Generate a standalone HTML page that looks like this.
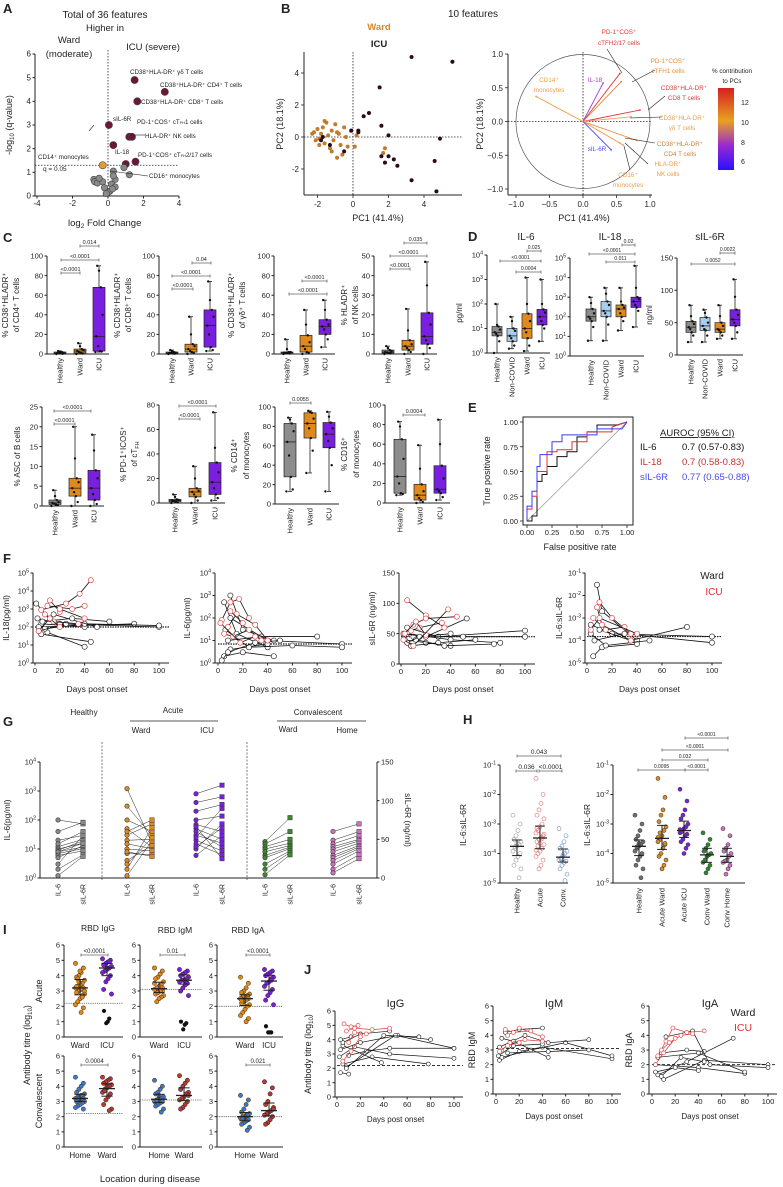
<!DOCTYPE html>
<html><head><meta charset="utf-8"><style>
body{margin:0;background:#fff}
svg{display:block;font-family:"Liberation Sans",sans-serif}
</style></head><body>
<svg id="fig" width="783" height="1187" viewBox="0 0 783 1187"></svg>
<script>
// ===================== DATA =====================
const volFC=[1.5,3.2,1.65,0.05,1.2,1.35,0.3,1.55,1.0,-0.3,0.9,0.3,0.4,1.2,-0.8,-0.75,-0.6,-0.3,0.2,0.4,-0.2,0.1,0,-0.5,0.3,0.25,-0.1];
const volQ=[4.9,4.4,4.0,3.0,2.5,2.5,2.15,1.45,1.35,1.3,1.2,1.05,0.7,0.9,0.7,0.6,0.55,0.6,0.5,0.38,0.35,0.2,0.15,0.75,0.85,0.3,0.1];
const volGrp=['s','s','s','s','s','s','s','s','s','w','n','n','n','n','n','n','n','n','n','n','n','n','n','n','n','n','n'];
const pcaWardX=[-2.3,-2.2,-2.0,-1.9,-1.8,-1.7,-1.6,-1.5,-1.4,-1.3,-1.2,-1.1,-1.0,-0.9,-0.8,-0.7,-0.5,-0.4,-0.3,-0.1,0.1,0.2,-2.1,-1.6,-1.2,-0.6,1.8,1.7,-1.9,-0.9];
const pcaWardY=[0.2,0.3,0.5,-0.1,0.2,0.6,-0.4,0.9,0.1,-0.7,0.4,-0.2,0.8,-1.3,0.2,-0.5,0.6,0,-0.6,0.4,-0.6,0.1,-0.2,1.0,-0.9,-1.1,-0.7,-1.0,-0.5,0.3];
const pcaIcuX=[3.3,5.6,1.5,0.9,0.6,1.6,2.0,-0.1,0.3,4.9,1.6,2.0,2.3,1.8,2.5,4.6,3.3,4.7,-1.7,-0.5,-1.3,0.3,-1.8];
const pcaIcuY=[5.0,4.7,3.1,1.5,1.3,0.7,0.1,0.4,0.4,-0.1,-1.2,-1.2,-1.4,-1.6,-1.8,-1.5,-2.7,-3.4,0,-0.9,-0.5,0.3,-0.2];
const loadNames=['tfh217','tfh1','il18','cd14','cd8','gd','cd4','nk','cd16','sil6r'];
const loadX=[0.55,0.57,0.3,-0.7,0.85,0.72,0.8,0.6,0.55,0.42];
const loadY=[0.71,0.59,0.57,0.37,0.17,0.07,-0.28,-0.35,-0.32,-0.42];
const loadCol=['#e2383a','#ef7f2d','#a43ed6','#f09a40','#db3a3a','#e8a070','#ee8a3c','#f09a50','#f0a868','#4a4af8'];
const cCD4H=[0,0.2,0.5,0.8,1,1.3,2,2.5,3], cCD4W=[0,0.5,1,2,3,4,5,8,11], cCD4I=[2,2.5,3,8,18,40,68,85,90];
const cCD8H=[0,0.3,0.5,1,1,1.5,2,3,4], cCD8W=[0,1,2,3,5,8,10,20,38], cCD8I=[3,4,7,20,29,38,45,55,74];
const cGDH=[0,0.5,1,1,1.5,2,2,5,15], cGDW=[0,1,2,5,8,12,19,30,45], cGDI=[7,15,20,25,28,30,35,45,55];
const cNKH=[0,0.3,0.5,0.8,1,1.5,2,3,4], cNKW=[0,1,2,3,4,5,7,12,23], cNKI=[0,3,5,7,9,15,21,35,47];
const cASCH=[0,0.2,0.4,0.6,0.8,1,1.5,2.5,4], cASCW=[0,1,2.5,3.5,4.5,6,7,12,20], cASCI=[0,0.5,1.5,3,4.5,7,9,14,18];
const cPDH=[0,0.5,1,1.5,2,2.5,3,5,7], cPDW=[0,2,5,7,9,10,12,20,30], cPDI=[2,4,7,12,17,25,33,45,74];
const cC14H=[13,15,28,50,64,75,83,87,89], cC14W=[32,55,68,78,83,88,94,95,96], cC14I=[13,40,58,65,72,78,84,90,95];
const cC16H=[8,9,10,20,27,45,65,78,83], cC16W=[0,1,3,5,8,12,19,35,59], cC16I=[3,6,10,12,14,25,38,60,85];
const dIL6H=[1,3,5,6,7,9,12,14,100], dIL6N=[1.5,2,3,4,5,8,10,20,30], dIL6W=[1.2,2,4,7,10,20,40,100,1200], dIL6I=[3,10,14,20,30,45,60,100,1000];
const dIL18H=[6,30,60,80,100,150,250,500,1000], dIL18N=[6,40,100,150,200,400,600,1500,3000], dIL18W=[20,60,100,150,250,300,400,600,3000], dIL18I=[30,200,300,400,600,800,1000,3000,40000];
const dSRH=[20,30,35,40,43,48,52,60,77], dSRN=[20,30,38,40,45,50,58,65,70], dSRW=[25,30,35,38,40,45,50,60,77], dSRI=[25,35,45,50,55,62,70,90,117];
const rocIL6F=[0,0.05,0.05,0.1,0.1,0.15,0.15,0.2,0.2,0.3,0.3,0.4,0.4,0.5,0.5,0.6,0.6,0.7,0.7,0.9,1];
const rocIL6T=[0,0,0.05,0.05,0.4,0.4,0.47,0.47,0.55,0.55,0.65,0.65,0.7,0.7,0.85,0.85,0.9,0.9,0.97,0.97,1];
const rocIL18F=[0,0,0.05,0.05,0.1,0.1,0.2,0.2,0.3,0.3,0.45,0.45,0.6,0.6,0.85,0.85,1];
const rocIL18T=[0,0.12,0.12,0.25,0.25,0.5,0.5,0.7,0.7,0.72,0.72,0.8,0.8,0.9,0.9,0.95,1];
const rocSRF=[0,0,0.05,0.05,0.1,0.1,0.13,0.13,0.25,0.25,0.35,0.35,0.7,0.7,0.95,1];
const rocSRT=[0,0.15,0.15,0.3,0.3,0.55,0.55,0.67,0.67,0.8,0.8,0.87,0.87,0.93,0.93,1];
const fIL18W=[[[2,300],[20,150],[100,100]],[[5,150],[40,100]],[[3,100],[80,150]],[[10,50],[40,8]],[[5,40],[45,15]],[[8,80],[40,150],[100,120]],[[1,2000],[12,300]],[[15,500],[50,100]],[[6,200],[30,300],[60,200]],[[3,60],[25,150]]];
const fIL18I=[[[5,900],[25,2000],[36,7000],[45,40000]],[[10,1500],[30,1000],[40,1500]],[[12,3000],[20,700]],[[8,500],[15,200],[35,150]],[[3,60],[12,300],[20,100]],[[20,1000],[40,300]]];
const fIL6W=[[[5,500],[15,20],[40,5]],[[5,2],[20,3],[45,2]],[[8,10],[35,15],[80,15]],[[3,1.3],[10,4],[40,7]],[[10,100],[40,10],[100,7]],[[6,30],[25,5],[60,6],[100,5]],[[10,1000],[20,30],[45,10]],[[8,3],[30,8],[50,10]]];
const fIL6I=[[[3,80],[10,500],[17,700],[25,100]],[[8,40],[15,150],[30,50],[40,10]],[[5,20],[12,15],[25,30],[35,10]],[[2,60],[18,8],[30,15]],[[10,200],[20,60]]];
const fSRW=[[[5,60],[30,45],[100,55]],[[3,40],[20,35],[40,30]],[[10,45],[50,45],[100,45]],[[5,50],[40,40],[80,35]],[[8,30],[30,35],[60,40]],[[2,50],[20,45],[53,75]],[[12,40],[35,30],[75,33]],[[5,35],[15,45],[40,50]]];
const fSRI=[[[5,105],[20,80],[35,60]],[[10,65],[20,75],[45,78]],[[8,55],[15,60],[33,68]],[[3,50],[12,70],[20,48]],[[2,40],[10,30],[38,90]]];
const fRatW=[[[8,0.03],[12,0.002],[40,1e-4]],[[3,5e-4],[20,2e-4],[100,1.5e-4]],[[5,2e-5],[12,5e-5],[40,7e-5]],[[10,3e-4],[35,1e-4],[80,4e-4]],[[6,1e-4],[30,2e-4],[100,8e-5]],[[3,2e-4],[15,6e-5],[50,1e-4]]];
const fRatI=[[[10,0.005],[20,0.001],[35,2e-4]],[[5,0.001],[15,3e-4],[30,4e-4]],[[8,0.003],[12,5e-4],[35,1e-4]],[[3,3e-4],[10,0.001],[40,2e-4]]];
const gHIL6=[100,40,20,12,10,9,8,7,6,5,3,2,1.2,15,8], gHSR=[70,72,55,50,45,48,40,38,35,42,55,30,28,60,45];
const gWIL6=[1200,300,100,50,30,20,15,10,7,4,2,1.2,40,8,3], gWSR=[45,55,60,40,70,50,38,35,30,42,65,48,75,28,52];
const gIIL6=[800,400,200,100,70,50,40,30,20,15,10,6,60,25,12], gISR=[120,105,95,80,60,50,40,45,35,30,70,55,25,90,65];
const gCWIL6=[18,15,12,10,8,6,5,3,2,1.3], gCWSR=[78,60,50,45,42,40,38,35,33,30];
const gCHIL6=[40,20,15,12,10,8,6,5,4,3,2,1.5], gCHSR=[70,60,55,50,48,45,42,40,38,35,30,25];
const hHealthy=[2e-3,1e-3,6e-4,4e-4,3e-4,2.5e-4,2e-4,1.8e-4,1.5e-4,1.2e-4,1e-4,8e-5,6e-5,4e-5,3e-5,1.5e-5,2.2e-4,1.7e-4];
const hAcute=[0.035,0.01,0.005,0.003,2e-3,1.5e-3,1e-3,8e-4,6e-4,5e-4,4e-4,3.5e-4,3e-4,2.5e-4,2e-4,1.5e-4,1.2e-4,1e-4,8e-5,6e-5,4e-5,3e-5,7e-4,4.5e-4,3.2e-4,2.2e-4,1.8e-4,1.3e-4];
const hConv=[7e-4,4e-4,2.5e-4,1.8e-4,1.5e-4,1.2e-4,1e-4,8e-5,7e-5,6e-5,5.5e-5,5e-5,4e-5,3e-5,2e-5,1.2e-5,9e-5,6.5e-5];
const hAW=[0.035,0.008,3e-3,2e-3,1.2e-3,8e-4,6e-4,4e-4,3e-4,2.5e-4,2e-4,1.5e-4,1e-4,8e-5,6e-5,4e-5,3e-5,5e-4,3.5e-4,2.2e-4];
const hAI=[0.015,6e-3,3e-3,2e-3,1.5e-3,1e-3,8e-4,7e-4,6e-4,5e-4,4.5e-4,4e-4,3e-4,2.5e-4,2e-4,1.5e-4,1e-4,5.5e-4,6.5e-4];
const hCW=[5e-4,3e-4,2e-4,1.5e-4,1.2e-4,1e-4,9e-5,8e-5,6e-5,5e-5,4e-5,3e-5,2.2e-5];
const hCH=[7e-4,4e-4,2e-4,1.5e-4,1.2e-4,1e-4,8e-5,6e-5,5.5e-5,5e-5,4e-5,3e-5,2e-5];
const iGW=[4.8,4.5,4.2,4.0,3.9,3.7,3.5,3.4,3.3,3.2,3.2,3.1,3.0,2.9,2.8,2.7,2.5,2.3,2.1,1.9,1.6,3.6,3.3,3.0,2.6,4.3,3.8], iGI=[5.1,5.0,4.9,4.8,4.7,4.6,4.5,4.4,4.3,4.2,4.0,3.8,3.6,3.1,2.8,4.9,4.5], iGN=[1.7,1.2,1.0,0.9];
const iGHome=[4.6,4.2,4.0,3.8,3.6,3.5,3.4,3.3,3.3,3.2,3.2,3.1,3.1,3.0,3.0,2.9,2.8,2.7,2.6,2.5,3.4,3.2], iGWard=[4.6,4.5,4.4,4.3,4.2,4.1,4.0,3.9,3.8,3.6,3.5,3.3,3.1,2.8,2.5,2.4,4.0,3.7];
const iMW=[4.5,4.3,4.1,3.9,3.8,3.6,3.4,3.3,3.2,3.1,3.0,3.0,2.9,2.8,2.7,2.6,2.5,2.3,3.5,3.2,3.0,2.9], iMI=[4.4,4.3,4.2,4.1,4.0,3.9,3.8,3.7,3.7,3.6,3.5,3.4,3.2,3.0,2.7], iMN=[1.0,0.9,0.8,0.5];
const iMHome=[4.4,4.0,3.8,3.6,3.5,3.3,3.2,3.2,3.1,3.0,3.0,2.9,2.8,2.7,2.5,2.3,3.4,3.1], iMWard=[4.7,4.4,4.2,4.0,3.8,3.6,3.5,3.3,3.2,3.1,3.0,2.8,2.6,2.5,3.4];
const iAW=[3.9,3.5,3.2,3.0,2.9,2.8,2.7,2.6,2.6,2.5,2.5,2.4,2.3,2.2,2.1,2.0,1.8,1.6,1.4,1.2,1.0,2.7,2.4], iAI=[4.4,4.3,4.2,4.1,4.0,3.9,3.8,3.6,3.5,3.3,3.1,2.9,2.7,2.4,2.1,3.7], iAN=[0.7,0.3,0.3,0.3];
const iAHome=[3.4,3.1,2.8,2.5,2.3,2.2,2.1,2.0,2.0,1.9,1.8,1.7,1.6,1.5,1.3,1.1,2.0,1.9], iAWard=[4.3,3.9,3.5,3.0,2.8,2.6,2.4,2.3,2.2,2.1,2.0,1.8,1.6,1.5,2.5];
const jGW=[[[3,1.7],[10,1.6]],[[5,2.3],[30,2.8],[78,2.3]],[[3,3.3],[20,3.8],[52,4.3],[80,4.0]],[[5,3.6],[38,2.4]],[[8,2.1],[50,4.3],[100,3.4]],[[2,2.8],[15,3.5],[45,3.0],[100,2.7]],[[5,3.8],[20,4.4],[45,4.6]],[[10,2.9],[25,3.2],[45,3.4],[100,3.4]],[[3,4.0],[12,4.2]],[[8,2.0],[40,4.3],[70,4.2]]];
const jGI=[[[8,4.6],[15,4.8],[30,4.7],[45,4.8]],[[6,5.1],[12,4.9],[18,5.0]],[[10,3.8],[15,4.5],[25,4.4]],[[5,2.5],[12,3.2],[20,4.2]]];
const jMW=[[[3,2.3],[20,2.9],[40,3.2],[100,2.4]],[[5,2.5],[30,3.0],[60,3.5],[100,2.6]],[[8,4.2],[20,4.4],[40,4.5]],[[3,3.2],[25,4.0],[45,3.5],[80,3.7]],[[10,2.8],[45,2.9],[80,3.0]],[[5,3.8],[15,3.6],[45,2.5]],[[2,2.6],[15,3.3],[40,3.4]]];
const jMI=[[[10,4.0],[20,4.5],[40,3.9]],[[5,3.0],[12,3.5],[25,3.7],[40,3.6]],[[8,4.4],[15,4.2],[30,4.3]],[[3,2.9],[10,3.3],[20,3.5]]];
const jAW=[[[5,1.3],[30,2.2],[70,3.8]],[[3,2.0],[40,1.8],[80,1.4]],[[8,2.8],[30,3.0],[45,2.9]],[[10,1.0],[45,2.3],[100,2.0]],[[5,2.5],[40,2.8],[80,1.5]],[[3,1.5],[20,1.8],[40,1.6]],[[12,3.9],[35,4.3],[50,2.0],[100,1.8]],[[8,1.2],[25,2.5],[45,2.2]]];
const jAI=[[[5,2.6],[12,3.6],[18,4.5],[30,4.2],[45,4.3]],[[8,3.0],[15,3.5],[25,4.0],[35,4.1]],[[3,2.0],[10,2.8],[20,3.8]]];

// ===================== HELPERS =====================
const NS='http://www.w3.org/2000/svg';
const svg=document.getElementById('fig');
const GRAY='#8c8c8c',ORG='#e08a1e',PUR='#7a1fe0',LBL='#a9cdee';
function mk(tag,attrs,name,parent){
  const el=document.createElementNS(NS,tag);
  for(const k in attrs) el.setAttribute(k,attrs[k]);
  
  
  (parent||svg).appendChild(el);
  return el;
}
function tx(x,y,s,o){o=o||{};const a={x:x,y:y,'font-size':o.fs||7,fill:o.c||'#222','text-anchor':o.a||'start'};
  if(o.rot!=null)a.transform='rotate('+o.rot+' '+x+' '+y+')';
  if(o.fw)a['font-weight']=o.fw;
  if(o.td)a['text-decoration']=o.td;
  const el=mk('text',a,o.n||'label');el.textContent=s;return el;}
function sub(el,s,dy,fs,name){const t=mk('tspan',{dy:dy,'font-size':fs},name||'text-part',el);t.textContent=s;return t;}
function pw(x,y,e,o){o=o||{};const el=tx(x,y,'10',o);sub(el,String(e),-3,(o.fs||7)*0.7,'exponent');return el;}
function ln(x1,y1,x2,y2,o){o=o||{};const a={x1:x1,y1:y1,x2:x2,y2:y2,stroke:o.c||'#222','stroke-width':o.w||0.8};if(o.d)a['stroke-dasharray']=o.d;return mk('line',a,o.n||'line');}
function dot(x,y,r,fill,stroke,name){return mk('circle',{cx:x,cy:y,r:r,fill:fill,stroke:stroke||'none','stroke-width':0.6},name||'data-point');}
function lin(d0,d1,r0,r1){return v=>r0+(v-d0)/(d1-d0)*(r1-r0);}
function lgs(e0,e1,r0,r1){return v=>r0+(Math.log10(v)-e0)/(e1-e0)*(r1-r0);}
function jit(i,w){return (((i*7)%9)-4)/4*w;}
function qt(a,p){const s=[...a].sort((x,y)=>x-y);const i=(s.length-1)*p,lo=Math.floor(i),hi=Math.ceil(i);return s[lo]+(s[hi]-s[lo])*(i-lo);}
function yAxis(x,sc,ticks,o){o=o||{};const ys=ticks.map(t=>sc(o.log?Math.pow(10,t):t));
  ln(x,Math.min(...ys),x,Math.max(...ys),{n:'y-axis-line',w:1});
  const side=o.right?1:-1;
  ticks.forEach((t,i)=>{ln(x,ys[i],x+side*2.5,ys[i],{n:'y-tick',w:1});
    const lx=x+side*4,a=o.right?'start':'end',fs=o.fs||7.5;
    if(o.log)pw(lx,ys[i]+2.7,t,{a:a,fs:fs,n:'y-tick-label'});else tx(lx,ys[i]+2.7,o.lab?o.lab[i]:String(t),{a:a,fs:fs,n:'y-tick-label'});});}
function xAxis(y,sc,ticks,o){o=o||{};const xs=ticks.map(t=>sc(t));
  ln(o.x0!=null?o.x0:Math.min(...xs),y,o.x1!=null?o.x1:Math.max(...xs),y,{n:'x-axis-line',w:1});
  ticks.forEach((t,i)=>{ln(xs[i],y,xs[i],y+2.5,{n:'x-tick',w:1});tx(xs[i],y+10,o.lab?o.lab[i]:String(t),{a:'middle',fs:o.fs||7.5,n:'x-tick-label'});});}
function br(x1,x2,y,lab,fs){ln(x1,y,x2,y,{c:'#666',n:'sig-bracket'});ln(x1,y-1.5,x1,y+1.5,{c:'#666',n:'sig-bracket-end'});ln(x2,y-1.5,x2,y+1.5,{c:'#666',n:'sig-bracket-end'});tx((x1+x2)/2,y-2,lab,{a:'middle',fs:fs||5.5,n:'p-value'});}
function catLab(x,y,s,fs){tx(x+2.5,y,s,{rot:-90,a:'end',fs:fs||7.5,n:'category-label'});}
function box(xc,vals,sc,col,w,name){
  const mn=Math.min(...vals),mx=Math.max(...vals),q1=qt(vals,.25),md=qt(vals,.5),q3=qt(vals,.75);
  ln(xc,sc(mx),xc,sc(mn),{n:name+'-whisker'});
  ln(xc-2,sc(mx),xc+2,sc(mx),{n:name+'-cap'});ln(xc-2,sc(mn),xc+2,sc(mn),{n:name+'-cap'});
  mk('rect',{x:xc-w/2,y:sc(q3),width:w,height:Math.max(0.6,sc(q1)-sc(q3)),fill:col,stroke:'#222','stroke-width':0.7},name+'-box');
  ln(xc-w/2,sc(md),xc+w/2,sc(md),{n:name+'-median'});
  vals.forEach((v,i)=>dot(xc+jit(i,w*0.3),sc(v),1.2,'#111',null,name+'-point'));}
function medIqr(xc,vals,sc,w){const q1=qt(vals,.25),md=qt(vals,.5),q3=qt(vals,.75);
  ln(xc,sc(q1),xc,sc(q3),{w:1,n:'iqr-bar'});ln(xc-w*0.35,sc(q1),xc+w*0.35,sc(q1),{w:1,n:'iqr-cap'});ln(xc-w*0.35,sc(q3),xc+w*0.35,sc(q3),{w:1,n:'iqr-cap'});ln(xc-w/2,sc(md),xc+w/2,sc(md),{w:1.3,n:'median-bar'});}
function scat(xc,vals,sc,fill,stroke,w,r,name){vals.forEach((v,i)=>dot(xc+jit(i,w),sc(v),r||2,fill,stroke,name));}

// ===================== PANEL A =====================
tx(3,13,'A',{fs:13,fw:'bold',n:'panel-letter-a'});
tx(105,18,'Total of 36 features',{fs:10,a:'middle',n:'panel-a-title'});
tx(105,31,'Higher in',{fs:9.5,a:'middle',n:'higher-in-label'});
tx(69,43,'Ward',{fs:9.5,a:'middle',n:'ward-label'});
tx(69,57,'(moderate)',{fs:9.5,a:'middle',n:'moderate-label'});
tx(153,50,'ICU (severe)',{fs:9.5,a:'middle',n:'icu-severe-label'});
{const sx=lin(-4,4,37,179),sy=lin(0,6,196,54);
 yAxis(35,sy,[0,1,2,3,4,5,6],{fs:8});xAxis(196,sx,[-4,-2,0,2,4],{x0:35,fs:8});
 ln(sx(0),50,sx(0),196,{d:'1.5,1.5',n:'zero-line'});ln(35,sy(1.3),178,sy(1.3),{d:'1.5,1.5',n:'q-threshold-line'});
 tx(43,171,'q = 0.05',{fs:6.5,n:'q-threshold-label'});
 const cols={s:'#6e1538',w:'#e89a2c',n:'#8a8a8a'};
 volFC.forEach((v,i)=>dot(sx(v),sy(volQ[i]),volGrp[i]==='n'?3.2:3.6,cols[volGrp[i]],'#444','volcano-point'));
 const lab=[[130,74,'CD38⁺HLA-DR⁺ γδ T cells'],[160,87,'CD38⁺HLA-DR⁺ CD4⁺ T cells'],[141,104,'CD38⁺HLA-DR⁺ CD8⁺ T cells'],[113,121,'sIL-6R'],[137,124,'PD-1⁺COS⁺ cT'],[145,138,'HLA-DR⁺ NK cells'],[115,154,'IL-18'],[138,157,'PD-1⁺COS⁺  cT'],[38,159,'CD14⁺ monocytes'],[149,178,'CD16⁺ monocytes']];
 lab.forEach((l,i)=>{const t=tx(l[0],l[1],l[2],{fs:6.2,n:'feature-label'});if(i===4){sub(t,'FH',0,4,'subscript');sub(t,'1 cells',0,6.2,'text-part');}if(i===7){sub(t,'FH',0,4,'subscript');sub(t,'2/17 cells',0,6.2,'text-part');}});
 ln(130,135,145,135,{w:0.6,n:'label-connector'});ln(89,131,94,125,{w:0.6,n:'label-connector'});ln(110,171,148,176,{w:0.6,n:'label-connector'});
 const xt=tx(68,226,'log',{fs:9.5,n:'x-axis-title'});sub(xt,'2',2,6.5,'subscript');sub(xt,' Fold Change',-2,9.5,'text-part');
 const yt=tx(12,125,'-log',{fs:9,a:'middle',rot:-90,n:'y-axis-title'});sub(yt,'10',2,6,'subscript');sub(yt,' (q-value)',-2,9,'text-part');
}

// ===================== PANEL B =====================
tx(281,13,'B',{fs:13,fw:'bold',n:'panel-letter-b'});
tx(473,17,'10 features',{fs:10,a:'middle',n:'panel-b-title'});
tx(379,30,'Ward',{fs:9.5,a:'middle',fw:'bold',c:'#d6892a',n:'legend-ward'});
tx(379,47,'ICU',{fs:9.5,a:'middle',fw:'bold',c:'#222',n:'legend-icu'});
{const sx=lin(0,4,353,424),sy=lin(0,4,137,73);
 ln(304,52,304,195,{w:1,n:'y-axis-line'});ln(304,195,462,195,{w:1,n:'x-axis-line'});
 [-2,0,2,4].forEach(t=>{ln(sx(t),195,sx(t),198,{n:'x-tick'});tx(sx(t),207,String(t),{a:'middle',fs:8,n:'x-tick-label'});
   ln(304,sy(t),301,sy(t),{n:'y-tick'});tx(299,sy(t)+3,String(t),{a:'end',fs:8,n:'y-tick-label'});});
 ln(sx(0),52,sx(0),195,{d:'1.5,1.5',n:'zero-line-x'});ln(304,sy(0),462,sy(0),{d:'1.5,1.5',n:'zero-line-y'});
 pcaWardX.forEach((v,i)=>dot(sx(v),sy(pcaWardY[i]),2,'#c07a2a',null,'pca-ward-point'));
 pcaIcuX.forEach((v,i)=>dot(sx(v),sy(pcaIcuY[i]),2,'#2a0a18',null,'pca-icu-point'));
 tx(378,221,'PC1 (41.4%)',{fs:9,a:'middle',n:'x-axis-title'});tx(283,124,'PC2 (18.1%)',{fs:9,a:'middle',rot:-90,n:'y-axis-title'});}
{const sx=lin(-1,1,516,650),sy=lin(-1,1,189,54);
 mk('circle',{cx:sx(0),cy:sy(0),r:67,fill:'none',stroke:'#555','stroke-width':0.7},'correlation-circle');
 ln(508,54,508,195,{w:1,n:'y-axis-line'});ln(508,195,652,195,{w:1,n:'x-axis-line'});
 [-1,-0.5,0,0.5,1].forEach(t=>{const l=t.toFixed(1).replace('-','−');ln(sx(t),195,sx(t),198,{n:'x-tick'});tx(sx(t),207,l,{a:'middle',fs:8,n:'x-tick-label'});
   ln(508,sy(t),505,sy(t),{n:'y-tick'});tx(503,sy(t)+3,l,{a:'end',fs:8,n:'y-tick-label'});});
 ln(sx(0),52,sx(0),195,{d:'1.5,1.5',n:'zero-line-x'});ln(508,sy(0),652,sy(0),{d:'1.5,1.5',n:'zero-line-y'});
 loadX.forEach((v,i)=>{ln(sx(0),sy(0),sx(v),sy(loadY[i]),{c:loadCol[i],w:0.9,n:'loading-arrow-'+loadNames[i]});dot(sx(v),sy(loadY[i]),0.9,loadCol[i],null,'arrow-head');});
 const bl=[[619,34,'PD-1⁺COS⁺','#e2383a'],[619,45,'cTFH2/17 cells','#e2383a'],[668,63,'PD-1⁺COS⁺','#ef8a30'],[668,73,'cTFH1 cells','#ef8a30'],[595,82,'IL-18','#a43ed6'],[549,82,'CD14⁺','#f0a040'],[549,92,'monocytes','#f0a040'],[684,90,'CD38⁺HLA-DR⁺','#db3a3a'],[684,100,'CD8 T cells','#db3a3a'],[682,120,'CD38⁺HLA-DR⁺','#e8a050'],[682,130,'γδ T cells','#e8a050'],[597,151,'sIL-6R','#4a4af8'],[680,146,'CD38⁺HLA-DR⁺','#d0803a'],[680,156,'CD4 T cells','#d0803a'],[668,166,'HLA-DR⁺','#f09a40'],[668,176,'NK cells','#f09a40'],[628,177,'CD16⁺','#f0a040'],[628,187,'monocytes','#f0a040']];
 bl.forEach(l=>tx(l[0],l[1],l[2],{fs:6.3,a:'middle',c:l[3],n:'loading-label'}));
 ln(607,49,622,73,{w:0.6,n:'label-connector'});ln(655,70,632,82,{w:0.6,n:'label-connector'});ln(665,96,648,110,{w:0.6,n:'label-connector'});ln(662,117,630,118,{w:0.6,n:'label-connector'});ln(655,143,625,138,{w:0.6,n:'label-connector'});ln(648,164,625,143,{w:0.6,n:'label-connector'});ln(630,170,624,146,{w:0.6,n:'label-connector'});
 tx(584,221,'PC1 (41.4%)',{fs:9,a:'middle',n:'x-axis-title'});tx(483,124,'PC2 (18.1%)',{fs:9,a:'middle',rot:-90,n:'y-axis-title'});
 const defs=mk('defs',{},'defs');const g=mk('linearGradient',{id:'cb',x1:0,y1:1,x2:0,y2:0},'colorbar-gradient',defs);
 [['0','#2a10ff'],['0.3','#9a2ad0'],['0.6','#e8a020'],['1','#d42020']].forEach(s=>mk('stop',{offset:s[0],'stop-color':s[1]},'gradient-stop',g));
 mk('rect',{x:718,y:88,width:16,height:82,fill:'url(#cb)'},'colorbar');
 [[12,103],[10,123],[8,143],[6,162]].forEach(t=>tx(741,t[1]+2,String(t[0]),{fs:7,n:'colorbar-tick-label'}));
 tx(732,73,'% contribution',{fs:6.3,a:'middle',n:'colorbar-title'});tx(732,83,'to PCs',{fs:6.3,a:'middle',n:'colorbar-title'});}

// ===================== PANEL C =====================
tx(3,242,'C',{fs:13,fw:'bold',n:'panel-letter-c'});
function cPanel(ax,yBot,yTop,max,step,cats,groups,cols,ylab,brs,name){
  const sc=lin(0,max,yBot,yTop);const ticks=[];for(let t=0;t<=max;t+=step)ticks.push(t);
  yAxis(ax,sc,ticks);ln(ax,yBot,cats[2]+10,yBot,{w:1,n:'x-axis-line'});
  groups.forEach((g,i)=>{box(cats[i],g,sc,cols[i],12,name);catLab(cats[i],yBot+4,['Healthy','Ward','ICU'][i]);});
  const ym=(yBot+yTop)/2;
  ylab.forEach(l=>{const t=tx(l[0],ym,l[1],{fs:8,a:'middle',rot:-90,n:'y-axis-title'});if(l[2]){sub(t,'FH',2,5.5,'subscript');}});
  brs.forEach(b=>br(b[0],b[1],b[2],b[3]));}
const C3=[GRAY,ORG,PUR];
cPanel(47,354,256,100,20,[60,80,99],[cCD4H,cCD4W,cCD4I],C3,[[8,'% CD38⁺HLADR⁺'],[19,'of CD4⁺ T cells']],[[80,99,246,'0.014'],[61,99,260,'<0.0001'],[61,80,273,'<0.0001']],'cd4-box');
cPanel(159,354,256,100,20,[172,191,210],[cCD8H,cCD8W,cCD8I],C3,[[120,'% CD38⁺HLADR⁺'],[131,'of CD8⁺ T cells']],[[192,211,263,'0.04'],[172,210,276,'<0.0001'],[172,193,289,'<0.0001']],'cd8-box');
cPanel(274,354,256,100,20,[287,306,325],[cGDH,cGDW,cGDI],C3,[[234,'% CD38⁺HLADR⁺'],[245,'of γδ⁺ T cells']],[[302,327,281,'<0.0001'],[289,327,294,'<0.0001']],'gd-box');
cPanel(374,354,256,50,10,[388,408,427],[cNKH,cNKW,cNKI],C3,[[347,'% HLADR⁺'],[358,'of NK cells']],[[404,427,243,'0.035'],[390,427,256,'<0.0001'],[390,410,269,'<0.0001']],'nk-box');
cPanel(42,506,407,25,5,[55,75,94],[cASCH,cASCW,cASCI],C3,[[20,'% ASC of B cells']],[[54,91,411,'<0.0001'],[54,75,424,'<0.0001']],'asc-box');
cPanel(159,503,405,80,20,[175,195,215],[cPDH,cPDW,cPDI],C3,[[126,'% PD-1⁺ICOS⁺'],[137,'of cT',1]],[[179,216,406,'<0.0001'],[179,200,419,'<0.0001']],'pd1-box');
cPanel(275,504,407,100,20,[290,310,329],[cC14H,cC14W,cC14I],C3,[[237,'% CD14⁺'],[249,'of monocytes']],[[290,311,403,'0.0055']],'cd14-box');
cPanel(385,503,405,100,20,[400,420,440],[cC16H,cC16W,cC16I],C3,[[347,'% CD16⁺'],[359,'of monocytes']],[[403,425,415,'0.0004']],'cd16-box');

// ===================== PANEL D =====================
tx(468,241,'D',{fs:13,fw:'bold',n:'panel-letter-d'});
function dPanel(ax,sc,ticks,log,yBot,cats,groups,title,tcx,ylab,brs,name){
  yAxis(ax,sc,ticks,{log:log,fs:7.5});ln(ax,yBot,cats[3]+8,yBot,{w:1,n:'x-axis-line'});
  groups.forEach((g,i)=>{box(cats[i],g,sc,[GRAY,LBL,ORG,PUR][i],10,name);catLab(cats[i],yBot+4,['Healthy','Non-COVID','Ward','ICU'][i]);});
  tx(tcx,240,title,{fs:10,a:'middle',n:'panel-d-title'});
  if(ylab)tx(ylab[0],yBot-40,ylab[1],{fs:8,a:'middle',rot:-90,n:'y-axis-title'});
  brs.forEach(b=>br(b[0],b[1],b[2],b[3],5));}
dPanel(487,lgs(0,4,353,255),[0,1,2,3,4],true,353,[497,512,527,542],[dIL6H,dIL6N,dIL6W,dIL6I],'IL-6',526,[462,'pg/ml'],[[527,541,251,'0.025'],[500,541,261,'<0.0001'],[516,541,272,'0.0004']],'il6-box');
dPanel(570,lgs(0,5,356,258),[0,1,2,3,4,5],true,356,[591,606,621,636],[dIL18H,dIL18N,dIL18W,dIL18I],'IL-18',610,null,[[622,635,245,'0.02'],[589,635,254,'<0.0001'],[606,635,262,'0.011']],'il18-box');
dPanel(677,lin(0,150,355,258),[0,50,100,150],false,355,[691,705,720,735],[dSRH,dSRN,dSRW,dSRI],'sIL-6R',710,[652,'ng/ml'],[[720,735,253,'0.0022'],[691,735,264,'0.0052']],'sil6r-box');

// ===================== PANEL E =====================
tx(468,412,'E',{fs:13,fw:'bold',n:'panel-letter-e'});
{const sx=lin(0,1,527,627),sy=lin(0,1,521,422);
 mk('rect',{x:523,y:417,width:110,height:108,fill:'none',stroke:'#222','stroke-width':1},'roc-frame');
 ln(sx(0),sy(0),sx(1),sy(1),{c:'#888',w:0.6,n:'roc-diagonal'});
 [0,0.25,0.5,0.75,1].forEach(t=>{ln(sx(t),525,sx(t),528,{n:'x-tick'});tx(sx(t),535,t.toFixed(2),{a:'middle',fs:7.5,n:'x-tick-label'});
   ln(523,sy(t),520,sy(t),{n:'y-tick'});tx(518,sy(t)+3,t.toFixed(2),{a:'end',fs:7.5,n:'y-tick-label'});});
 [[rocIL6F,rocIL6T,'#111','roc-il6'],[rocIL18F,rocIL18T,'#e03030','roc-il18'],[rocSRF,rocSRT,'#3a3aff','roc-sil6r']].forEach(r=>{
   mk('polyline',{points:r[0].map((f,i)=>sx(f)+','+sy(r[1][i])).join(' '),fill:'none',stroke:r[2],'stroke-width':1},r[3]);});
 tx(580,550,'False positive rate',{fs:9,a:'middle',n:'x-axis-title'});tx(490,471,'True positive rate',{fs:9,a:'middle',rot:-90,n:'y-axis-title'});
 tx(660,436,'AUROC  (95% CI)',{fs:9.5,td:'underline',n:'table-header'});
 [['IL-6','0.7 (0.57-0.83)','#111',450],['IL-18','0.7 (0.58-0.83)','#c03030',465],['sIL-6R','0.77 (0.65-0.88)','#4a4af8',480]].forEach(r=>{tx(640,r[3],r[0],{fs:9.5,c:r[2],n:'auroc-name'});tx(682,r[3],r[1],{fs:9.5,c:r[2],n:'auroc-value'});});}

// ===================== PANEL F =====================
tx(3,563,'F',{fs:13,fw:'bold',n:'panel-letter-f'});
function fPanel(ax,x0,x100,sc,ticks,log,yBot,wS,iS,ref,ylab,ylx,name){
  const sx=lin(0,100,x0,x100);
  yAxis(ax,sc,ticks,{log:log,fs:7.5});xAxis(yBot,sx,[0,20,40,60,80,100],{x0:ax,x1:x100+10,fs:7.5});
  ln(x0,sc(ref),x100+10,sc(ref),{d:'1.5,1',w:1.2,n:'reference-line'});
  wS.concat(iS).forEach((s,k)=>{const red=k>=wS.length;
    mk('polyline',{points:s.map(p=>sx(p[0])+','+sc(p[1])).join(' '),fill:'none',stroke:'#111','stroke-width':0.8},name+'-trajectory');
    s.forEach(p=>dot(sx(p[0]),sc(p[1]),2.6,'#fff',red?'#e03030':'#111',name+'-point'));});
  tx((x0+x100)/2,692,'Days post onset',{fs:8.5,a:'middle',n:'x-axis-title'});
  tx(ylx,(yBot+573)/2,ylab,{fs:8.5,a:'middle',rot:-90,n:'y-axis-title'});}
fPanel(33,35,159,lgs(0,5,663,573),[0,1,2,3,4,5],true,663,fIL18W,fIL18I,100,'IL-18(pg/ml)',9,'f-il18');
fPanel(215,218,342,lgs(0,4,663,573),[0,1,2,3,4],true,663,fIL6W,fIL6I,7,'IL-6(pg/ml)',190,'f-il6');
fPanel(399,401,525,lin(0,150,664,573),[0,50,100,150],false,664,fSRW,fSRI,45,'sIL-6R (ng/ml)',375,'f-sil6r');
fPanel(585,587,712,lgs(-5,-1,663,573),[-5,-4,-3,-2,-1],true,663,fRatW,fRatI,1.5e-4,'IL-6:sIL-6R',562,'f-ratio');
tx(712,579,'Ward',{fs:10,a:'middle',n:'legend-ward'});tx(714,595,'ICU',{fs:10,a:'middle',c:'#e03030',n:'legend-icu'});

// ===================== PANEL G =====================
tx(3,726,'G',{fs:13,fw:'bold',n:'panel-letter-g'});
{const sl=lgs(0,4,878,762),sr=lin(0,150,878,762);
 yAxis(40,sl,[0,1,2,3,4],{log:true,fs:7.5});yAxis(377,sr,[0,50,100,150],{right:true,fs:7.5});
 ln(40,878,377,878,{w:1,n:'x-axis-line'});
 ln(102,742,102,880,{d:'2,1.5',w:0.6,n:'group-divider'});ln(247,742,247,880,{d:'2,1.5',w:0.6,n:'group-divider'});
 tx(84,715,'Healthy',{fs:8,a:'middle',n:'group-header'});tx(173,713,'Acute',{fs:8,a:'middle',n:'group-header'});ln(130,721,218,721,{w:0.8,n:'group-underline'});
 tx(141,733,'Ward',{fs:8,a:'middle',n:'subgroup-header'});tx(207,733,'ICU',{fs:8,a:'middle',n:'subgroup-header'});
 tx(318,715,'Convalescent',{fs:8,a:'middle',n:'group-header'});ln(277,721,366,721,{w:0.8,n:'group-underline'});
 tx(288,732,'Ward',{fs:8,a:'middle',n:'subgroup-header'});tx(347,733,'Home',{fs:8,a:'middle',n:'subgroup-header'});
 const gs=[[58,83,gHIL6,gHSR,'#8a8a8a'],[127,152,gWIL6,gWSR,ORG],[196,222,gIIL6,gISR,PUR],[265,290,gCWIL6,gCWSR,'#3a8a2a'],[333,359,gCHIL6,gCHSR,'#d070c0']];
 gs.forEach(g=>{g[2].forEach((v,i)=>ln(g[0],sl(v),g[1],sr(g[3][i]),{w:0.5,n:'pair-line'}));
   g[2].forEach(v=>dot(g[0],sl(v),2.2,g[4],'#333','il6-point'));
   g[3].forEach(v=>mk('rect',{x:g[1]-2.2,y:sr(v)-2.2,width:4.4,height:4.4,fill:g[4],stroke:'#333','stroke-width':0.5},'sil6r-point'));
   catLab(g[0],884,'IL-6',7);catLab(g[1],884,'sIL-6R',7);});
 tx(10,820,'IL-6(pg/ml)',{fs:8.5,a:'middle',rot:-90,n:'y-axis-title'});tx(405,820,'sIL-6R (ng/ml)',{fs:8.5,a:'middle',rot:90,n:'y-axis-title-right'});}

// ===================== PANEL H =====================
tx(463,724,'H',{fs:13,fw:'bold',n:'panel-letter-h'});
{const sc=lgs(-5,-1,883,765);
 yAxis(500,sc,[-5,-4,-3,-2,-1],{log:true,fs:7.5});ln(500,883,568,883,{w:1,n:'x-axis-line'});
 [[517,hHealthy,'#999'],[540,hAcute,'#e06868'],[563,hConv,'#6a8ac8']].forEach((g,k)=>{scat(g[0],g[1],sc,'none',g[2],4,2,'h-open-point');medIqr(g[0],g[1],sc,14);catLab(g[0],888,['Healthy','Acute','Conv.'][k],7.5);});
 br(517,561,756,'0.043',6.5);br(516,537,771,'0.036',6.5);br(539,562,771,'<0.0001',6.5);
 tx(466,825,'IL-6:sIL-6R',{fs:8.5,a:'middle',rot:-90,n:'y-axis-title'});
 yAxis(613,sc,[-5,-4,-3,-2,-1],{log:true,fs:7.5});ln(613,883,745,883,{w:1,n:'x-axis-line'});
 [[639,hHealthy,'#707070'],[662,hAW,ORG],[684,hAI,PUR],[707,hCW,'#2a8a2a'],[727,hCH,'#d070c0']].forEach((g,k)=>{scat(g[0],g[1],sc,g[2],'#444',4,2,'h-filled-point');medIqr(g[0],g[1],sc,14);catLab(g[0],888,['Healthy','Acute Ward','Acute ICU','Conv Ward','Conv Home'][k],7.5);});
 br(685,728,738,'<0.0001',5);br(662,728,750,'<0.0001',5);br(662,708,760,'0.032',5);br(638,685,770,'0.0095',5);br(685,708,770,'<0.0001',5);
 tx(590,825,'IL-6:sIL-6R',{fs:8.5,a:'middle',rot:-90,n:'y-axis-title'});}

// ===================== PANEL I =====================
tx(3,934,'I',{fs:13,fw:'bold',n:'panel-letter-i'});
function iPanel(ax,xe,yBot,yTop,cats,g1,g2,c1,c2,neg,thr,labs,brk,name){
  const sc=lin(0,6,yBot,yTop);yAxis(ax,sc,[0,1,2,3,4,5,6],{fs:7.5});ln(ax,yBot,xe,yBot,{w:1,n:'x-axis-line'});
  ln(ax,sc(thr),xe,sc(thr),{d:'1.2,1',c:'#555',n:'threshold-line'});
  scat(cats[0],g1,sc,c1,'#5a3a10',4.5,2.1,name+'-point');scat(cats[1],g2,sc,c2,'#3a1a50',4.5,2.1,name+'-point');
  if(neg)scat(cats[1],neg,sc,'#111',null,3,2.1,name+'-negative-point');
  medIqr(cats[0],g1,sc,16);medIqr(cats[1],g2,sc,16);
  labs.forEach((l,i)=>tx(cats[i],yBot+11,l,{fs:8,a:'middle',n:'category-label'}));
  if(brk)br(cats[0]+1,cats[1]+1,brk[0],brk[1],6);}
const HB='#3a78d8',RS='#b8401a';
iPanel(64,123,1037,945,[80,107],iGW,iGI,ORG,PUR,iGN,2.2,['Ward','ICU'],[955,'<0.0001'],'igg-acute');
iPanel(140,202,1037,945,[159,184],iMW,iMI,ORG,PUR,iMN,3.1,['Ward','ICU'],[955,'0.01'],'igm-acute');
iPanel(217,283,1037,945,[245,269],iAW,iAI,ORG,PUR,iAN,2.0,['Ward','ICU'],[955,'<0.0001'],'iga-acute');
iPanel(64,123,1147,1056,[80,107],iGHome,iGWard,HB,RS,null,2.2,['Home','Ward'],[1065,'0.0004'],'igg-conv');
iPanel(140,202,1147,1056,[159,184],iMHome,iMWard,HB,RS,null,3.1,['Home','Ward'],null,'igm-conv');
iPanel(217,283,1147,1056,[245,269],iAHome,iAWard,HB,RS,null,2.0,['Home','Ward'],[1065,'0.021'],'iga-conv');
tx(98,931,'RBD IgG',{fs:8.5,a:'middle',n:'panel-i-title'});tx(175,933,'RBD IgM',{fs:8.5,a:'middle',n:'panel-i-title'});tx(248,933,'RBD IgA',{fs:8.5,a:'middle',n:'panel-i-title'});
{const t=tx(30,1045,'Antibody titre (log',{fs:9,a:'middle',rot:-90,n:'y-axis-title'});sub(t,'10',2,6,'subscript');sub(t,')',-2,9,'text-part');}
tx(42,991,'Acute',{fs:9,a:'middle',rot:-90,n:'row-title-acute'});tx(42,1101,'Convalescent',{fs:9,a:'middle',rot:-90,n:'row-title-convalescent'});
tx(150,1182,'Location during disease',{fs:9.5,a:'middle',n:'x-axis-title'});

// ===================== PANEL J =====================
tx(304,974,'J',{fs:13,fw:'bold',n:'panel-letter-j'});
function jPanel(ax,x0,x100,yBot,yTop,wS,iS,thr,title,ylab,ylx,name){
  const sx=lin(0,100,x0,x100),sc=lin(0,6,yBot,yTop);
  yAxis(ax,sc,[0,1,2,3,4,5,6],{fs:7.5});xAxis(yBot,sx,[0,20,40,60,80,100],{x0:ax,x1:x100+9,fs:7.5});
  ln(x0,sc(thr),x100+9,sc(thr),{d:'3,2',w:1,c:'#333',n:'threshold-line'});
  wS.concat(iS).forEach((s,k)=>{const red=k>=wS.length;const c=red?'#e03030':'#111';
    mk('polyline',{points:s.map(p=>sx(p[0])+','+sc(p[1])).join(' '),fill:'none',stroke:c,'stroke-width':0.7},name+'-trajectory');
    s.forEach(p=>dot(sx(p[0]),sc(p[1]),2,'#fff',c,name+'-point'));});
  tx((x0+x100)/2,yBot+25,'Days post onset',{fs:8,a:'middle',n:'x-axis-title'});
  tx((x0+x100)/2,1007,title,{fs:11,a:'middle',n:'panel-j-title'});
  if(ylab){const t=tx(ylx,(yBot+yTop)/2,ylab,{fs:9,a:'middle',rot:-90,n:'y-axis-title'});if(name==='j-igg'){sub(t,'10',2,6,'subscript');sub(t,')',-2,9,'text-part');}}}
jPanel(335,337,454,1097,1011,jGW,jGI,2.2,'IgG','Antibody titre (log',311,'j-igg');
jPanel(493,496,612,1094,1006,jMW,jMI,3.1,'IgM','RBD IgM',475,'j-igm');
jPanel(649,652,768,1094,1006,jAW,jAI,2.0,'IgA','RBD IgA',632,'j-iga');
tx(743,1016,'Ward',{fs:10.5,a:'middle',n:'legend-ward'});tx(743,1031,'ICU',{fs:10.5,a:'middle',c:'#e03030',n:'legend-icu'});
</script>
</body></html>
